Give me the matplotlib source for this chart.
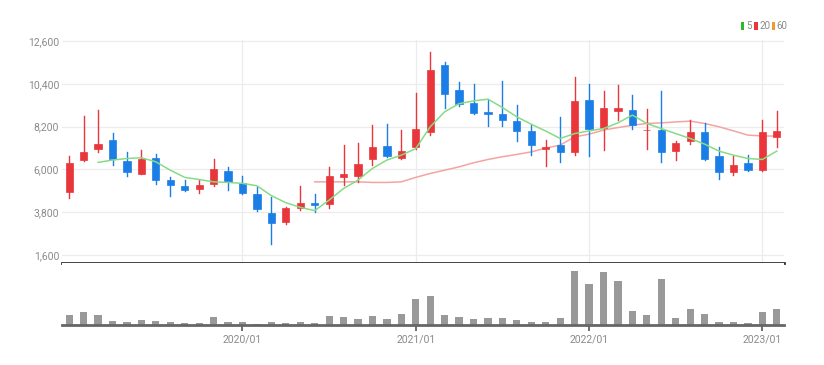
import matplotlib
matplotlib.use("Agg")
import matplotlib.pyplot as plt
from matplotlib.patches import Rectangle

plt.rcParams['font.family'] = ['Liberation Sans Narrow', 'Roboto', 'DejaVu Sans']

# --- DANE (miesieczne, 2019/01 - 2023/02) ---
months = ["2019/01", "2019/02", "2019/03", "2019/04", "2019/05", "2019/06",
          "2019/07", "2019/08", "2019/09", "2019/10", "2019/11", "2019/12",
          "2020/01", "2020/02", "2020/03", "2020/04", "2020/05", "2020/06",
          "2020/07", "2020/08", "2020/09", "2020/10", "2020/11", "2020/12",
          "2021/01", "2021/02", "2021/03", "2021/04", "2021/05", "2021/06",
          "2021/07", "2021/08", "2021/09", "2021/10", "2021/11", "2021/12",
          "2022/01", "2022/02", "2022/03", "2022/04", "2022/05", "2022/06",
          "2022/07", "2022/08", "2022/09", "2022/10", "2022/11", "2022/12",
          "2023/01", "2023/02"]

opens = [4830, 6480, 7060, 7500, 6440, 5760, 6560, 5450, 5140, 4970,
         5240, 5930, 5280, 4730, 3770, 3280, 4030, 4290, 4200, 5620,
         5650, 6510, 7190, 6610, 7160, 7930, 11370, 10070, 9420, 8960,
         8840, 8490, 7980, 7070, 7260, 6900, 9590, 8150, 9010, 9040,
         8000, 8020, 6960, 7470, 7910, 6680, 5860, 6340, 5960, 7660]
closes = [6340, 6890, 7330, 6510, 5860, 6510, 5450, 5180, 4940, 5210,
          6000, 5350, 4800, 3940, 3260, 4000, 4290, 4150, 5650, 5740,
          6300, 7160, 6680, 6940, 8100, 11100, 9900, 9380, 8900, 8840,
          8560, 7980, 7250, 7160, 6900, 9520, 8100, 9140, 9130, 8260,
          8050, 6900, 7370, 7900, 6540, 5860, 6250, 5960, 7900, 7970]
highs = [6680, 8730, 9040, 7880, 6870, 6990, 6770, 5620, 5450, 5450,
         6510, 6100, 5650, 5110, 4590, 4080, 5160, 4730, 6100, 7250,
         7370, 8270, 8320, 8050, 9930, 12040, 11520, 10500, 10410, 9560,
         10530, 9300, 8270, 7500, 8700, 10750, 10410, 10020, 10340, 9830,
         9080, 10020, 7470, 8560, 8360, 7160, 6680, 6730, 8560, 8990]
lows = [4510, 6420, 6890, 6250, 5670, 5760, 5230, 4630, 4900, 4770,
        5140, 4940, 4730, 3880, 2170, 3190, 3910, 3820, 4030, 5190,
        5360, 6220, 6650, 6510, 7070, 7760, 9130, 9250, 8870, 8220,
        8220, 7470, 6730, 6190, 6390, 6730, 6700, 6990, 8530, 8100,
        7060, 6390, 6480, 7330, 6480, 5500, 5710, 5910, 5930, 7130]

# srednie kroczace (None = brak)
ma5 = [None, None, 6360, 6480, 6560, 6600, 6390, 5960, 5590, 5480,
       5360, 5330, 5280, 5160, 4650, 4290, 4050, 3880, 4420, 5020,
       5450, 6050, 6480, 6730, 7070, 8190, 8960, 9380, 9520, 9610,
       9180, 8700, 8320, 7970, 7590, 7840, 7980, 8100, 8390, 8790,
       8360, 8100, 7840, 7590, 7300, 6940, 6730, 6560, 6510, 6940]
ma20 = [None] * 17 + [5360, 5360, 5360, 5360, 5330, 5330, 5360, 5590, 5790,
                      5960, 6130, 6340, 6510, 6650, 6770, 6900, 7090, 7250,
                      7670, 7810, 8020, 8150, 8270, 8360, 8390, 8440, 8480,
                      8360, 8190, 7980, 7760, 7720, 7710]

volumes = [9.7, 13.0, 9.7, 4.0, 2.7, 4.7, 4.3, 3.0, 2.3, 2.3,
           8.3, 3.0, 3.0, 1.3, 3.0, 2.3, 3.0, 2.3, 9.3, 7.7,
           6.3, 9.3, 6.3, 11.0, 25.7, 29.3, 10.0, 8.3, 6.3, 6.7,
           6.7, 4.7, 3.0, 3.0, 6.7, 54.3, 40.7, 52.7, 44.3, 14.3,
           9.7, 46.0, 6.7, 16.0, 11.3, 3.0, 3.0, 2.3, 12.7, 15.7]

y_ticks = [1600, 3800, 6000, 8200, 10400, 12600]
year_labels = ["2020/01", "2021/01", "2022/01", "2023/01"]

RED = "#e8363b"
BLUE = "#1a7ee6"
GRID = "#ececec"
TXT = "#8a8a8a"

fig = plt.figure(figsize=(8.24, 3.65), dpi=100)
ax = fig.add_axes([0.0752, 0.2795, 0.8763, 0.6109])
axv = fig.add_axes([0.0752, 0.1096, 0.8763, 0.1699])

n = len(months)
xs = list(range(n))
year_pos = [months.index(m) for m in year_labels]

# --- SWIECE ---
w = 0.5
for i in xs:
    o, c, h, l = opens[i], closes[i], highs[i], lows[i]
    col = RED if c >= o else BLUE
    ax.plot([i, i], [l, h], color=col, lw=1.0, zorder=3)
    bottom = min(o, c)
    height = max(abs(c - o), 40)
    ax.add_patch(Rectangle((i - w / 2, bottom), w, height, facecolor=col,
                           edgecolor=col, lw=0.5, zorder=4))

# --- SREDNIE ---
def series(vals):
    px = [i for i, v in enumerate(vals) if v is not None]
    return px, [vals[i] for i in px]

mx, my = series(ma20)
ax.plot(mx, my, color="#f5a3a3", lw=1.1, zorder=2)
mx, my = series(ma5)
ax.plot(mx, my, color="#86dc86", lw=1.1, zorder=5)

ax.set_xlim(-0.5, n - 0.5)
ax.set_ylim(1190, 12650)
ax.set_yticks(y_ticks)
ax.set_yticklabels(["{:,}".format(v) for v in y_ticks])
ax.set_xticks(year_pos)
ax.set_xticklabels([])
ax.tick_params(axis="both", length=0, colors=TXT, labelsize=7.5, pad=2)
ax.grid(True, color=GRID, lw=0.9, zorder=0)
for s in ["top", "right", "left"]:
    ax.spines[s].set_visible(False)
ax.spines["bottom"].set_color("#333333")
ax.spines["bottom"].set_linewidth(2.0)

# --- LEGENDA ---
leg = [("5", "#2db82d"), ("20", RED), ("60", "#f29a2e")]
lx = 0.899
for lab, col in leg:
    fig.patches.append(Rectangle((lx, 0.918), 0.0045, 0.022, transform=fig.transFigure,
                                 facecolor=col, edgecolor="none"))
    fig.text(lx + 0.006, 0.929, lab, fontsize=7, color=TXT, va="center", ha="left")
    lx += 0.006 + 0.0052 * len(lab) + 0.005

# --- WOLUMEN ---
axv.bar(xs, volumes, width=0.5, color="#999999", zorder=2)
axv.set_xlim(-0.5, n - 0.5)
axv.set_ylim(0, 62)
axv.set_yticks([])
axv.set_xticks(year_pos)
axv.set_xticklabels(year_labels)
axv.tick_params(axis="x", length=4, width=1.2, color="#555555", colors=TXT, labelsize=7.5, pad=3)
for s in ["top", "right", "left"]:
    axv.spines[s].set_visible(False)
axv.spines["bottom"].set_color("#666666")
axv.spines["bottom"].set_linewidth(2.0)
axv.spines["bottom"].set_zorder(3)

fig.savefig("out.png", dpi=100, facecolor="white")
